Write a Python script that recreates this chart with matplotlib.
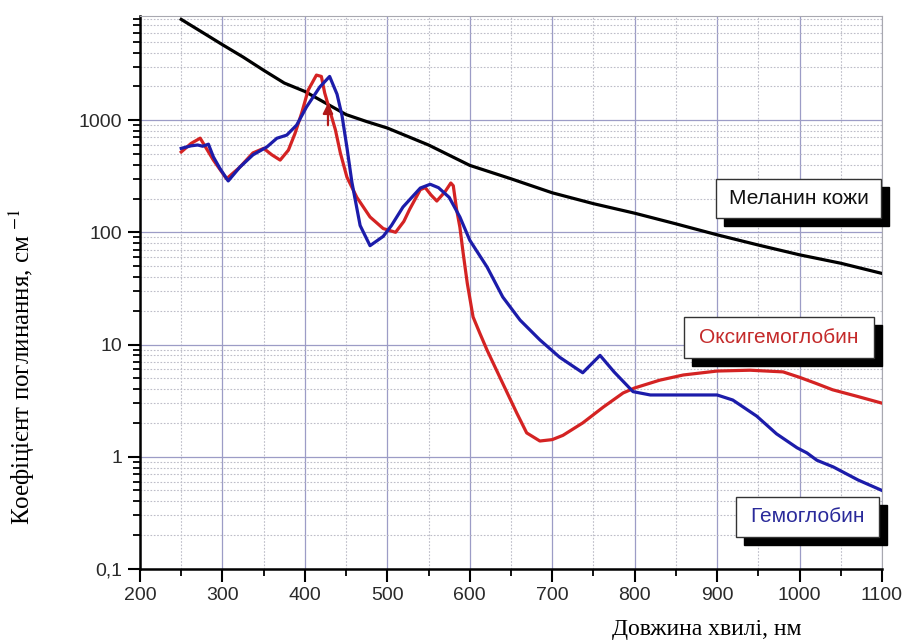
import matplotlib
matplotlib.use('Agg')
import matplotlib.pyplot as plt
from matplotlib.ticker import MultipleLocator, LogLocator, FixedLocator, FuncFormatter, NullFormatter
from matplotlib.patches import Rectangle

# wavelength (nm) and absorption coefficient (1/cm)
melanin_nm = [250, 275, 300, 325, 350, 375, 400, 425, 450, 475, 500, 550, 600,
              650, 700, 750, 800, 850, 900, 950, 1000, 1050, 1100]
melanin = [7900, 6100, 4700, 3650, 2780, 2140, 1800, 1420, 1120, 970, 850, 600,
           395, 300, 225, 180, 148, 119, 95, 77, 63, 53, 43]

oxy_nm = [250, 262, 273, 289, 305, 321, 337, 350, 360, 370, 380, 388, 396, 404,
          414, 420, 424, 430, 437, 443, 451, 463, 479, 495, 510, 520, 527, 540,
          546, 553, 560, 570, 577, 580, 584, 588, 592, 597, 604, 612, 621, 640,
          657, 669, 685, 700, 713, 737, 762, 786, 800, 830, 859, 900, 940, 980,
          1000, 1020, 1040, 1070, 1100]
oxy = [520, 620, 690, 440, 300, 380, 510, 560, 490, 440, 540, 760, 1150, 1850,
       2520, 2450, 1750, 1230, 820, 510, 310, 205, 137, 108, 100, 125, 160, 240,
       250, 215, 190, 230, 275, 260, 160, 111, 65, 35, 17.6, 12.7, 8.9, 4.5,
       2.45, 1.63, 1.38, 1.42, 1.55, 2.0, 2.77, 3.7, 4.1, 4.8, 5.35, 5.8, 5.9, 5.7,
       5.1, 4.5, 3.95, 3.45, 3.0]

hb_nm = [250, 262, 270, 276, 283, 289, 297, 307, 321, 337, 354, 366, 378, 390,
         402, 418, 430, 439, 445, 451, 457, 467, 479, 495, 505, 519, 527, 540,
         552, 562, 575, 588, 600, 621, 640, 661, 685, 709, 737, 758, 775, 798,
         819, 859, 900, 919, 948, 972, 997, 1009, 1021, 1041, 1071, 1100]
hb = [560, 590, 600, 585, 610, 470, 370, 287, 380, 490, 577, 689, 735, 903,
      1310, 1970, 2450, 1700, 1100, 570, 280, 115, 76, 92, 115, 168, 195, 248,
      268, 250, 205, 137, 85, 49, 26.5, 16.5, 11, 7.7, 5.6, 8.0, 5.7, 3.8, 3.55,
      3.55, 3.55, 3.2, 2.3, 1.6, 1.2, 1.08, 0.93, 0.81, 0.62, 0.5]

# small red arrow near the Soret peak
arrow_nm = [428, 428]
arrow_val = [850, 1500]

y_ticks = [0.1, 1, 10, 100, 1000]
y_labels = ['0,1', '1', '10', '100', '1000']
x_ticks = [200, 300, 400, 500, 600, 700, 800, 900, 1000, 1100]

RED = '#d42323'
BLUE = '#1c1caa'
W, H = 906, 642

plt.rcParams['mathtext.fontset'] = 'stix'

fig = plt.figure(figsize=(W / 100, H / 100), dpi=100)
ax = fig.add_axes([140 / W, 1 - 568.9 / H, (882 - 140) / W, (568.9 - 16) / H])
ax.set_yscale('log')
ax.set_xlim(200, 1100)
ax.set_ylim(0.1, 8470)

ax.plot(melanin_nm, melanin, color='black', lw=2.3, zorder=3)
ax.plot(oxy_nm, oxy, color=RED, lw=2.3, zorder=4)
ax.plot(hb_nm, hb, color=BLUE, lw=2.3, zorder=5)
ax.annotate('', xy=(arrow_nm[1], arrow_val[1]), xytext=(arrow_nm[0], arrow_val[0]),
            arrowprops=dict(arrowstyle='-|>', color='#b01818', lw=1.6, mutation_scale=15),
            zorder=6)

# axes and grid
ax.xaxis.set_major_locator(FixedLocator(x_ticks))
ax.xaxis.set_minor_locator(MultipleLocator(50))
ax.yaxis.set_major_locator(FixedLocator(y_ticks))
ax.yaxis.set_major_formatter(FuncFormatter(lambda v, _: y_labels[y_ticks.index(v)] if v in y_ticks else ''))
ax.yaxis.set_minor_locator(LogLocator(base=10, subs=range(2, 10), numticks=20))
ax.yaxis.set_minor_formatter(NullFormatter())

ax.grid(which='major', color='#9c9cc6', lw=0.9, ls='-', zorder=0)
ax.grid(which='minor', color='#bdbdc8', lw=0.8, ls=(0, (1.5, 1.5)), zorder=0)
ax.set_axisbelow(True)

for side in ['left', 'bottom']:
    ax.spines[side].set_color('black')
    ax.spines[side].set_linewidth(1.8)
for side in ['top', 'right']:
    ax.spines[side].set_color('#a8a8b0')
    ax.spines[side].set_linewidth(0.8)

ax.tick_params(which='major', direction='out', length=9, width=1.5, color='black',
               labelsize=14, labelcolor='#2a2a2a', pad=4)
ax.tick_params(which='minor', direction='out', length=5, width=1.3, color='black')
for lab in ax.get_xticklabels() + ax.get_yticklabels():
    lab.set_family('Liberation Sans')

# axis titles
fig.text(707 / W, 1 - 630 / H, 'Довжина хвилі, нм', family='Liberation Serif',
         fontsize=17, ha='center', va='center')
fig.text(22 / W, 1 - 367 / H, 'Коефіцієнт поглинання, см $^{-1}$', family='Liberation Serif',
         fontsize=18, ha='center', va='center', rotation=90)


def label_box(x0, y0, x1, y1, text, color):
    # box with a black drop shadow, pixel coords from top-left
    off = 8
    shadow = Rectangle(((x0 + off) / W, 1 - (y1 + off) / H), (x1 - x0) / W, (y1 - y0) / H,
                       transform=fig.transFigure, facecolor='black', edgecolor='black', zorder=10)
    box = Rectangle((x0 / W, 1 - y1 / H), (x1 - x0) / W, (y1 - y0) / H,
                    transform=fig.transFigure, facecolor='white', edgecolor='#333333',
                    lw=1.0, zorder=11)
    fig.add_artist(shadow)
    fig.add_artist(box)
    fig.text((x0 + x1) / 2 / W, 1 - (y0 + y1) / 2 / H, text, color=color,
             family='Liberation Sans', fontsize=15, ha='center', va='center', zorder=12)


label_box(716, 179, 881, 218, 'Меланин кожи', '#111111')
label_box(684, 317, 874, 358, 'Оксигемоглобин', '#c42a2a')
label_box(736, 497, 879, 537, 'Гемоглобин', '#2a2a9a')

plt.savefig('out.png', dpi=100)
plt.close()
